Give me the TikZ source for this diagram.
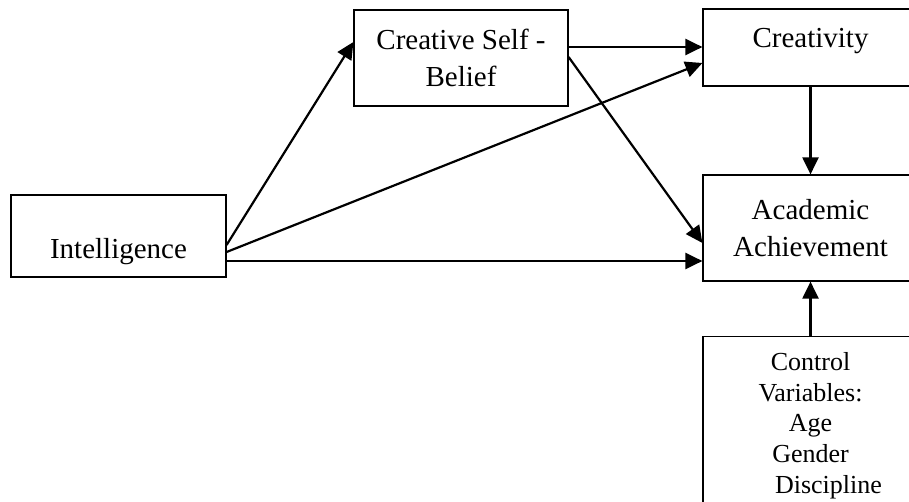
\documentclass[tikz,border=0pt]{standalone}
\usepackage{fontspec}
\setmainfont{Liberation Serif}
\usetikzlibrary{arrows.meta, calc}
\tikzset{
box/.style={draw, line width=1.2pt, rectangle, inner sep=0pt, minimum width=215pt, align=center, font=\fontsize{29}{36.5}\selectfont},
link/.style={line width=2.2pt, -{Triangle[length=17pt, width=16pt]}}
}

\begin{document}
\begin{tikzpicture}[x=1pt, y=-1pt]
\useasboundingbox (0,0) rectangle (909,502);
\clip (0,0) rectangle (909,502);

\node[box, minimum height=82pt, text height=52pt, text depth=6pt] (intel) at (118.5,236) {Intelligence};
\node[box, minimum height=96pt, minimum width=214pt] (belief) at (461,58) {Creative Self -\\Belief};
\node[box, minimum height=77pt, text height=20pt, text depth=20pt] (creat) at (810.5,47.5) {Creativity};
\node[box, minimum height=106pt] (acad) at (810.5,228) {Academic\\Achievement};
\node[box, anchor=north, minimum height=178pt, font=\fontsize{26}{30.8}\selectfont] (ctrl) at (810.5,336)
  {Control\\Variables:\\Age\\Gender\\\hspace*{36pt}Discipline};

\draw[link] ($(intel.east)+(0,9)$) -- ($(belief.west)+(0,-16)$);
\draw[link] ($(intel.east)+(0,16)$) -- ($(creat.west)+(0,15.5)$);
\draw[link] ($(intel.east)+(0,25)$) -- ($(acad.west)+(0,33)$);
\draw[link] ($(belief.east)+(0,-11)$) -- ($(creat.west)+(0,-0.5)$);
\draw[link] ($(belief.east)+(0,-1)$) -- ($(acad.west)+(0,15)$);
\draw[link] (creat.south) -- (acad.north);
\draw[link] (ctrl.north) -- (acad.south);

\end{tikzpicture}
\end{document}
